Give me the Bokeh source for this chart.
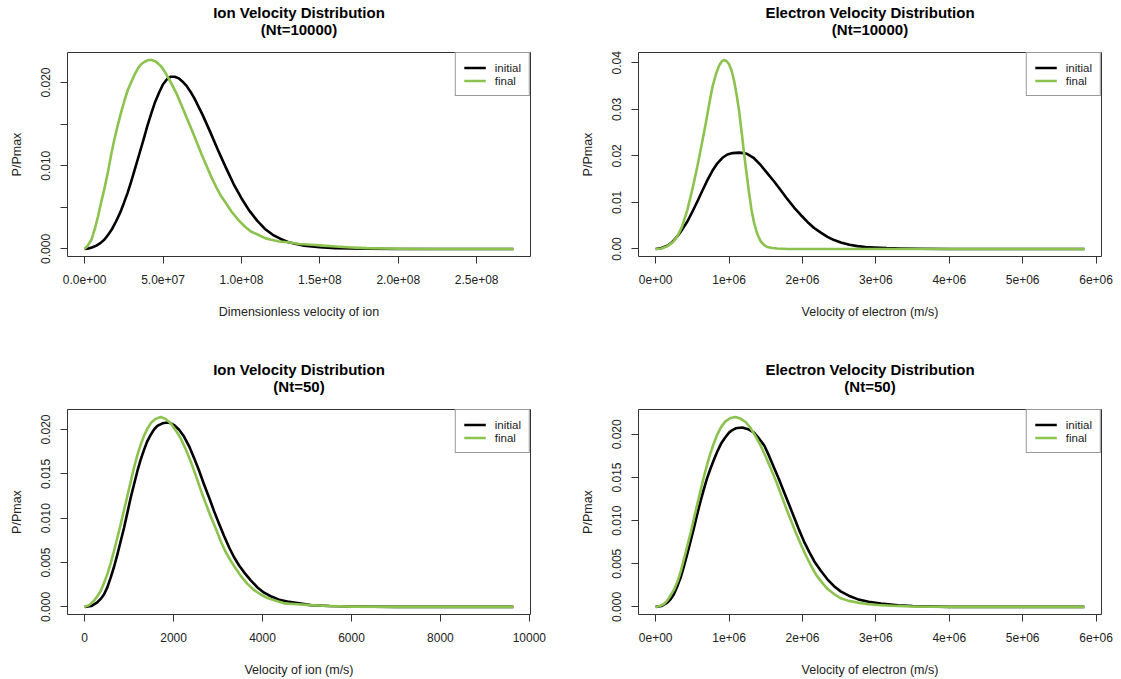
from bokeh.plotting import figure
from bokeh.models import Range1d, FixedTicker, Legend, LegendItem, Title
from bokeh.layouts import gridplot
from bokeh.embed import file_html
from bokeh.resources import INLINE

# ---------------- data ----------------
# Panel 1: Ion velocity distribution, Nt=10000 (dimensionless velocity)
ion10k_v_initial = [0, 0.25e7, 0.5e7, 0.75e7, 1.0e7, 1.25e7, 1.5e7, 1.75e7, 2.0e7, 2.25e7, 2.5e7, 2.75e7,
                    3.0e7, 3.25e7, 3.5e7, 3.75e7, 4.0e7, 4.25e7, 4.5e7, 4.75e7, 5.0e7, 5.25e7, 5.5e7,
                    5.75e7, 6.0e7, 6.25e7, 6.5e7, 6.75e7, 7.0e7, 7.5e7, 8.0e7, 8.5e7, 9.0e7, 9.5e7,
                    1.0e8, 1.05e8, 1.1e8, 1.15e8, 1.2e8, 1.25e8, 1.3e8, 1.35e8, 1.4e8, 1.5e8, 1.6e8,
                    1.8e8, 2.0e8, 2.734e8]
ion10k_p_initial = [0, 0.00005, 0.0002, 0.0004, 0.0007, 0.0011, 0.0017, 0.0024, 0.0033, 0.0043, 0.0055, 0.0068,
                    0.0083, 0.0099, 0.0115, 0.0131, 0.0148, 0.0163, 0.0177, 0.0188, 0.0198, 0.0204, 0.0207,
                    0.0207, 0.0205, 0.0201, 0.0196, 0.0189, 0.0181, 0.0162, 0.0141, 0.0119, 0.0098, 0.0078,
                    0.0061, 0.0046, 0.0034, 0.0024, 0.0017, 0.0012, 0.0008, 0.0006, 0.0004, 0.0002, 0.0001,
                    0.00003, 0, 0]
ion10k_v_final = [0, 0.2e7, 0.43e7, 0.65e7, 0.85e7, 1.05e7, 1.28e7, 1.5e7, 1.70e7, 1.9e7, 2.13e7, 2.35e7,
                  2.55e7, 2.75e7, 2.98e7, 3.2e7, 3.40e7, 3.6e7, 3.83e7, 4.05e7, 4.26e7, 4.47e7, 4.68e7,
                  4.9e7, 5.11e7, 5.32e7, 5.53e7, 5.85e7, 6.17e7, 6.5e7, 6.81e7, 7.13e7, 7.45e7, 7.77e7,
                  8.09e7, 8.4e7, 8.72e7, 9.05e7, 9.36e7, 9.8e7, 1.021e8, 1.06e8, 1.106e8, 1.15e8, 1.19e8,
                  1.24e8, 1.298e8, 1.37e8, 1.447e8, 1.52e8, 1.6e8, 1.7e8, 1.8e8, 2.0e8, 2.2e8, 2.734e8]
ion10k_p_final = [0, 0.0004, 0.0011, 0.0024, 0.0039, 0.0056, 0.0074, 0.0094, 0.0114, 0.0132, 0.0150, 0.0166,
                  0.0179, 0.0191, 0.0201, 0.0210, 0.0217, 0.0222, 0.0225, 0.0227, 0.0227, 0.0226, 0.0223,
                  0.0219, 0.0213, 0.0206, 0.0199, 0.0187, 0.0173, 0.0158, 0.0144, 0.0129, 0.0114, 0.0100,
                  0.0086, 0.0074, 0.0063, 0.0054, 0.0045, 0.0035, 0.0027, 0.0021, 0.0017, 0.0013, 0.0011,
                  0.0009, 0.0008, 0.0006, 0.0005, 0.0004, 0.0003, 0.00018, 0.0001, 0.00003, 0, 0]

# Panel 2: Electron velocity distribution, Nt=10000 (m/s)
ele10k_v_initial = [0, 0.08e6, 0.159e6, 0.227e6, 0.295e6, 0.363e6, 0.432e6, 0.5e6, 0.568e6, 0.636e6, 0.705e6,
                    0.773e6, 0.841e6, 0.91e6, 0.977e6, 1.05e6, 1.136e6, 1.2e6, 1.25e6, 1.34e6, 1.432e6,
                    1.52e6, 1.614e6, 1.705e6, 1.795e6, 1.886e6, 1.977e6, 2.068e6, 2.159e6, 2.25e6, 2.341e6,
                    2.43e6, 2.523e6, 2.64e6, 2.75e6, 2.86e6, 2.977e6, 3.15e6, 3.34e6, 3.6e6, 4.0e6, 5.84e6]
ele10k_p_initial = [0, 0.0002, 0.0007, 0.0015, 0.0027, 0.0042, 0.0059, 0.0080, 0.0102, 0.0125, 0.0148,
                    0.0168, 0.0184, 0.0196, 0.0203, 0.0206, 0.0207, 0.0206, 0.0204, 0.0195, 0.0180,
                    0.0163, 0.0145, 0.0126, 0.0107, 0.0089, 0.0073, 0.0058, 0.0045, 0.0035, 0.0026,
                    0.0019, 0.0014, 0.0009, 0.0006, 0.0004, 0.0003, 0.00017, 0.0001, 0.00004, 0, 0]
ele10k_v_final = [0, 0.08e6, 0.159e6, 0.23e6, 0.295e6, 0.36e6, 0.432e6, 0.5e6, 0.568e6, 0.625e6, 0.682e6,
                  0.73e6, 0.773e6, 0.82e6, 0.864e6, 0.90e6, 0.932e6, 0.965e6, 1.0e6, 1.035e6, 1.068e6,
                  1.10e6, 1.136e6, 1.17e6, 1.205e6, 1.24e6, 1.273e6, 1.305e6, 1.341e6, 1.385e6, 1.432e6,
                  1.48e6, 1.523e6, 1.59e6, 1.659e6, 1.8e6, 5.84e6]
ele10k_p_final = [0, 0.0001, 0.0006, 0.0014, 0.0027, 0.0048, 0.0084, 0.0128, 0.0177, 0.0223, 0.0269,
                  0.0312, 0.0348, 0.0375, 0.0394, 0.0403, 0.0406, 0.0404, 0.0397, 0.0383, 0.0362,
                  0.0334, 0.0298, 0.0253, 0.0205, 0.0160, 0.0120, 0.0085, 0.0056, 0.0032, 0.0016,
                  0.0008, 0.0004, 0.0002, 0.0001, 0, 0]

# Panel 3: Ion velocity distribution, Nt=50 (m/s)
ion50_v_initial = [0, 150, 285, 360, 435, 510, 585, 660, 735, 810, 885, 960, 1035, 1110, 1185, 1260, 1335,
                   1410, 1485, 1560, 1635, 1750, 1860, 1940, 2010, 2120, 2235, 2350, 2460, 2570, 2685, 2800,
                   2910, 3020, 3135, 3250, 3360, 3470, 3585, 3735, 3885, 4035, 4185, 4370, 4560, 4820, 5085,
                   5500, 6000, 7000, 9640]
ion50_p_initial = [0, 0.0001, 0.0005, 0.0009, 0.0014, 0.0022, 0.0033, 0.0045, 0.0059, 0.0074, 0.0089, 0.0106,
                   0.0123, 0.0138, 0.0153, 0.0166, 0.0177, 0.0187, 0.0194, 0.0200, 0.0204, 0.0207, 0.0208,
                   0.0207, 0.0205, 0.0200, 0.0192, 0.0181, 0.0168, 0.0154, 0.0138, 0.0123, 0.0108, 0.0094,
                   0.0080, 0.0067, 0.0056, 0.0047, 0.0039, 0.0030, 0.0022, 0.0016, 0.0012, 0.0008, 0.0006,
                   0.0004, 0.0002, 0.0001, 0.00005, 0, 0]
ion50_v_final = [0, 100, 210, 285, 360, 435, 510, 585, 660, 735, 810, 885, 960, 1035, 1110, 1185, 1260, 1335,
                 1410, 1500, 1598, 1710, 1820, 1935, 2050, 2160, 2270, 2385, 2500, 2610, 2720, 2835, 2950,
                 3060, 3170, 3285, 3400, 3510, 3660, 3810, 3960, 4110, 4300, 4485, 4780, 5085, 5500, 6000,
                 7000, 9640]
ion50_p_final = [0, 0.0002, 0.0007, 0.0012, 0.0018, 0.0027, 0.0037, 0.0049, 0.0063, 0.0078, 0.0093, 0.0109,
                 0.0125, 0.0141, 0.0157, 0.0171, 0.0183, 0.0193, 0.0201, 0.0208, 0.0212, 0.0214, 0.0212,
                 0.0207, 0.0199, 0.0190, 0.0178, 0.0164, 0.0148, 0.0132, 0.0117, 0.0102, 0.0088, 0.0074,
                 0.0062, 0.0052, 0.0043, 0.0035, 0.0026, 0.0019, 0.0014, 0.0010, 0.0007, 0.0004, 0.0003,
                 0.0002, 0.0001, 0.00003, 0, 0]

# Panel 4: Electron velocity distribution, Nt=50 (m/s)
ele50_v_initial = [0, 0.08e6, 0.159e6, 0.205e6, 0.25e6, 0.295e6, 0.34e6, 0.385e6, 0.43e6, 0.475e6, 0.52e6,
                   0.565e6, 0.61e6, 0.655e6, 0.70e6, 0.75e6, 0.80e6, 0.845e6, 0.89e6, 0.945e6, 1.0e6,
                   1.045e6, 1.09e6, 1.18e6, 1.26e6, 1.34e6, 1.41e6, 1.48e6, 1.545e6, 1.61e6, 1.68e6,
                   1.75e6, 1.82e6, 1.89e6, 1.955e6, 2.02e6, 2.09e6, 2.16e6, 2.25e6, 2.34e6, 2.43e6,
                   2.52e6, 2.63e6, 2.75e6, 2.9e6, 3.07e6, 3.3e6, 3.5e6, 4.0e6, 5.84e6]
ele50_p_initial = [0, 0.0001, 0.0005, 0.0009, 0.0015, 0.0024, 0.0034, 0.0047, 0.0061, 0.0076, 0.0091,
                   0.0107, 0.0122, 0.0136, 0.0149, 0.0161, 0.0172, 0.0181, 0.0189, 0.0196, 0.0202,
                   0.0205, 0.0207, 0.0208, 0.0206, 0.0202, 0.0195, 0.0187, 0.0175, 0.0162, 0.0148,
                   0.0133, 0.0118, 0.0103, 0.0089, 0.0076, 0.0064, 0.0053, 0.0042, 0.0032, 0.0024,
                   0.0018, 0.0013, 0.0009, 0.0006, 0.0004, 0.0002, 0.0001, 0, 0]
ele50_v_final = [0, 0.055e6, 0.11e6, 0.155e6, 0.20e6, 0.25e6, 0.30e6, 0.345e6, 0.39e6, 0.435e6, 0.48e6,
                 0.525e6, 0.57e6, 0.615e6, 0.66e6, 0.705e6, 0.75e6, 0.795e6, 0.84e6, 0.895e6, 0.95e6,
                 1.02e6, 1.09e6, 1.16e6, 1.23e6, 1.295e6, 1.36e6, 1.43e6, 1.50e6, 1.57e6, 1.64e6,
                 1.705e6, 1.77e6, 1.84e6, 1.91e6, 1.98e6, 2.05e6, 2.115e6, 2.18e6, 2.26e6, 2.34e6,
                 2.43e6, 2.52e6, 2.63e6, 2.75e6, 2.9e6, 3.07e6, 3.3e6, 3.5e6, 4.0e6, 5.84e6]
ele50_p_final = [0, 0.0001, 0.0003, 0.0007, 0.0013, 0.0020, 0.0030, 0.0042, 0.0057, 0.0072, 0.0087,
                 0.0104, 0.0120, 0.0136, 0.0152, 0.0166, 0.0179, 0.0190, 0.0200, 0.0209, 0.0215,
                 0.0219, 0.0220, 0.0218, 0.0214, 0.0207, 0.0198, 0.0187, 0.0174, 0.0160, 0.0146,
                 0.0131, 0.0116, 0.0101, 0.0086, 0.0072, 0.0059, 0.0048, 0.0038, 0.0029, 0.0021,
                 0.0015, 0.0010, 0.0007, 0.0005, 0.0003, 0.0002, 0.0001, 0.00005, 0, 0]

# ticks and labels
ion10k_xticks = [0, 50000000, 100000000, 150000000, 200000000, 250000000]
ion10k_xlabels = ["0.0e+00", "5.0e+07", "1.0e+08", "1.5e+08", "2.0e+08", "2.5e+08"]
ele_xticks = [0, 1000000, 2000000, 3000000, 4000000, 5000000, 6000000]
ele_xlabels = ["0e+00", "1e+06", "2e+06", "3e+06", "4e+06", "5e+06", "6e+06"]
ion50_xticks = [0, 2000, 4000, 6000, 8000, 10000]
ion50_xlabels = ["0", "2000", "4000", "6000", "8000", "10000"]

ion10k_yticks = [0, 0.005, 0.01, 0.015, 0.02]
ion10k_ylabels = ["0.000", "", "0.010", "", "0.020"]
ele10k_yticks = [0, 0.01, 0.02, 0.03, 0.04]
ele10k_ylabels = ["0.00", "0.01", "0.02", "0.03", "0.04"]
n50_yticks = [0, 0.005, 0.01, 0.015, 0.02]
n50_ylabels = ["0.000", "0.005", "0.010", "0.015", "0.020"]

series_names = ["initial", "final"]
colors = ["#000000", "#8cc34e"]

FONT = "Liberation Sans"
TXT = "#222222"
EDGE = "#333333"


def panel(title, subtitle, xlabel, xticks, xlabels, yticks, ylabels, curves,
          frame_h, left, right, top, bottom):
    xmax = max(max(v) for v, _ in curves)
    ymax = max(max(pv) for _, pv in curves)
    p = figure(frame_width=463, frame_height=frame_h,
               x_range=Range1d(-0.04 * xmax, 1.04 * xmax),
               y_range=Range1d(-0.04 * ymax, 1.04 * ymax),
               min_border_left=left, min_border_right=right,
               min_border_top=top, min_border_bottom=bottom,
               output_backend="svg", toolbar_location=None,
               background_fill_color="white", border_fill_color="white")
    # first title line (outermost)
    p.title.text = title
    p.title.align = "center"
    p.title.text_font = FONT
    p.title.text_font_size = "15px"
    p.title.text_font_style = "bold"
    p.title.text_color = "#000000"
    p.title.standoff = -34
    # second title line (closest to the frame)
    p.add_layout(Title(text=subtitle, align="center", text_font=FONT, text_font_size="15px",
                       text_font_style="bold", text_color="#000000", standoff=30), "above")

    p.grid.visible = False
    p.outline_line_color = EDGE
    p.outline_line_width = 1
    p.outline_line_alpha = 1

    renderers = []
    for (v, pv), c in zip(curves, colors):
        r = p.line(v, pv, line_color=c, line_width=2.6, line_join="round")
        renderers.append(r)

    for ax, ticks, labels in ((p.xaxis[0], xticks, xlabels), (p.yaxis[0], yticks, ylabels)):
        ax.ticker = FixedTicker(ticks=ticks)
        ax.major_label_overrides = {t: l for t, l in zip(ticks, labels)}
        ax.bounds = (ticks[0], ticks[-1])
        ax.major_tick_out = 7
        ax.major_tick_in = 0
        ax.minor_tick_out = 0
        ax.minor_tick_in = 0
        ax.axis_line_color = EDGE
        ax.major_tick_line_color = EDGE
        ax.major_label_text_font = FONT
        ax.major_label_text_font_size = "12px"
        ax.major_label_text_color = TXT
        ax.axis_label_text_font = FONT
        ax.axis_label_text_font_size = "12.5px"
        ax.axis_label_text_font_style = "normal"
        ax.axis_label_text_color = TXT

    p.xaxis.axis_label = xlabel
    p.xaxis.major_label_standoff = 11
    p.xaxis.axis_label_standoff = 18
    p.yaxis.axis_label = "P/Pmax"
    p.yaxis.major_label_orientation = "vertical"
    p.yaxis.major_label_standoff = 10
    p.yaxis.axis_label_standoff = 15

    legend = Legend(items=[LegendItem(label=n, renderers=[r]) for n, r in zip(series_names, renderers)],
                    location="top_right", margin=0, padding=8, spacing=0,
                    glyph_width=22, glyph_height=13, label_height=13, label_standoff=9,
                    border_line_color=EDGE, border_line_width=1,
                    background_fill_color="white", background_fill_alpha=1,
                    label_text_font=FONT, label_text_font_size="11.5px", label_text_color=TXT)
    p.add_layout(legend)
    return p


p1 = panel("Ion Velocity Distribution", "(Nt=10000)", "Dimensionless velocity of ion",
           ion10k_xticks, ion10k_xlabels, ion10k_yticks, ion10k_ylabels,
           [(ion10k_v_initial, ion10k_p_initial), (ion10k_v_final, ion10k_p_final)],
           204, 67, 41, 52, 101)
p2 = panel("Electron Velocity Distribution", "(Nt=10000)", "Velocity of electron (m/s)",
           ele_xticks, ele_xlabels, ele10k_yticks, ele10k_ylabels,
           [(ele10k_v_initial, ele10k_p_initial), (ele10k_v_final, ele10k_p_final)],
           204, 67, 20, 52, 101)
p3 = panel("Ion Velocity Distribution", "(Nt=50)", "Velocity of ion (m/s)",
           ion50_xticks, ion50_xlabels, n50_yticks, n50_ylabels,
           [(ion50_v_initial, ion50_p_initial), (ion50_v_final, ion50_p_final)],
           205, 67, 41, 52, 65)
p4 = panel("Electron Velocity Distribution", "(Nt=50)", "Velocity of electron (m/s)",
           ele_xticks, ele_xlabels, n50_yticks, n50_ylabels,
           [(ele50_v_initial, ele50_p_initial), (ele50_v_final, ele50_p_final)],
           205, 67, 20, 52, 65)

grid = gridplot([[p1, p2], [p3, p4]], toolbar_location=None)

open("out.html", "w").write(file_html(grid, INLINE))
